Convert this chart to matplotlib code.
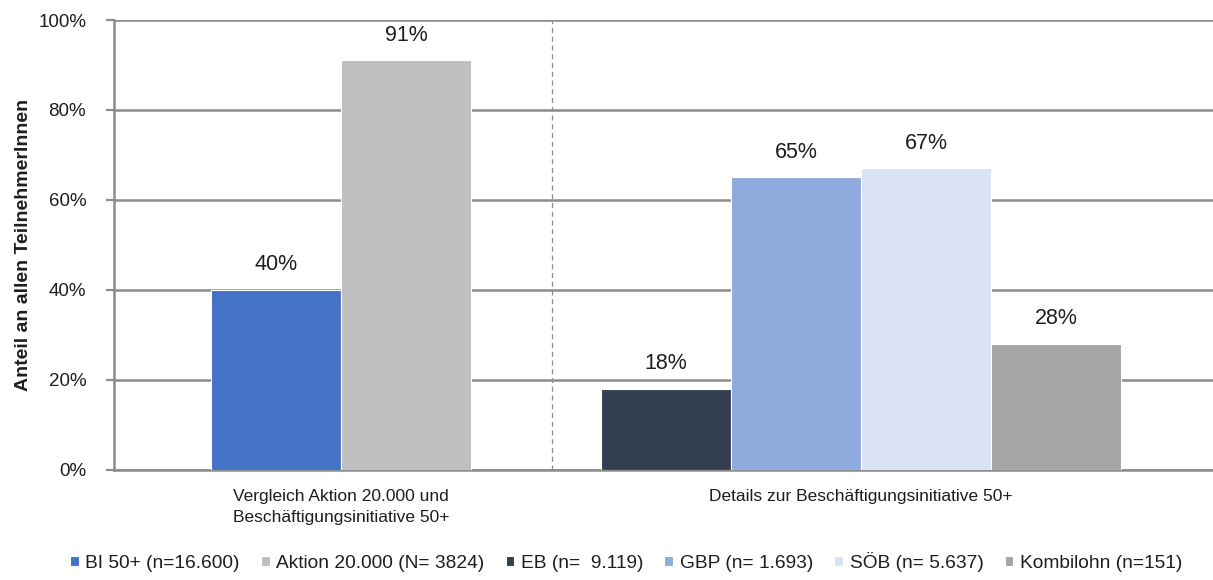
import matplotlib
matplotlib.use("Agg")
import matplotlib.pyplot as plt
from matplotlib.ticker import FuncFormatter

plt.rcParams['font.family'] = ['Liberation Sans', 'DejaVu Sans']

# groups on the x axis
groups = ["Vergleich Aktion 20.000 und\nBeschäftigungsinitiative 50+",
          "Details zur Beschäftigungsinitiative 50+"]

# series: legend label, group index, value in %, colour
series_names = ["BI 50+ (n=16.600)", "Aktion 20.000 (N= 3824)", "EB (n=  9.119)",
                "GBP (n= 1.693)", "SÖB (n= 5.637)", "Kombilohn (n=151)"]
series_group = [0, 0, 1, 1, 1, 1]
series_values = [40, 91, 18, 65, 67, 28]
series_colors = ["#4472C4", "#BFBFBF", "#333F50", "#8FAADC", "#DAE3F3", "#A5A5A5"]

yticks = [0, 20, 40, 60, 80, 100]

fig = plt.figure(figsize=(12.13, 5.8), dpi=100)
ax = fig.add_axes([0.094, 0.19, 0.906, 0.7755])

width = 0.25
grid_col = "#8C8C8C"
text_col = "#1E1E1E"

# bars placed side by side inside each group
for g in range(len(groups)):
    idx = [i for i, s in enumerate(series_group) if s == g]
    n = len(idx)
    for k, i in enumerate(idx):
        x = g + (k - (n - 1) / 2) * width
        ax.bar(x, series_values[i], width, color=series_colors[i],
               edgecolor="white", linewidth=0.8, label=series_names[i], zorder=3)
        ax.text(x, series_values[i] + 3.3, f"{series_values[i]}%", ha="center",
                va="bottom", fontsize=15.5, color=text_col, zorder=4)

ax.set_xlim(-0.4365, 1.677)
ax.set_ylim(0, 100)
ax.set_yticks(yticks)
ax.yaxis.set_major_formatter(FuncFormatter(lambda v, p: f"{int(v)}%"))
ax.tick_params(axis="y", labelsize=13.5, length=6, width=1.6, color=grid_col,
               labelcolor=text_col, pad=14)
ax.set_xticks(range(len(groups)))
ax.set_xticklabels(groups, fontsize=12.5, color=text_col, linespacing=1.45)
ax.tick_params(axis="x", length=0, pad=14)
ax.grid(axis="y", color=grid_col, linewidth=1.8, zorder=0)

for side in ["top", "right"]:
    ax.spines[side].set_visible(False)
for side in ["left", "bottom"]:
    ax.spines[side].set_color(grid_col)
    ax.spines[side].set_linewidth(1.8)

# dashed divider between the two blocks
ax.axvline(0.406, color="#8C8C8C", linewidth=0.9, linestyle=(0, (4, 3)), zorder=1)

ax.set_ylabel("Anteil an allen TeilnehmerInnen", fontsize=14, fontweight="bold",
              color=text_col)
ax.yaxis.set_label_coords(-0.075, 0.5)

ax.legend(loc="center", bbox_to_anchor=(0.466, -0.205), ncol=6, frameon=False,
          fontsize=13.8, handlelength=0.45, handleheight=0.45, handletextpad=0.35,
          columnspacing=1.1, labelcolor=text_col)

fig.savefig("out.png", dpi=100)
